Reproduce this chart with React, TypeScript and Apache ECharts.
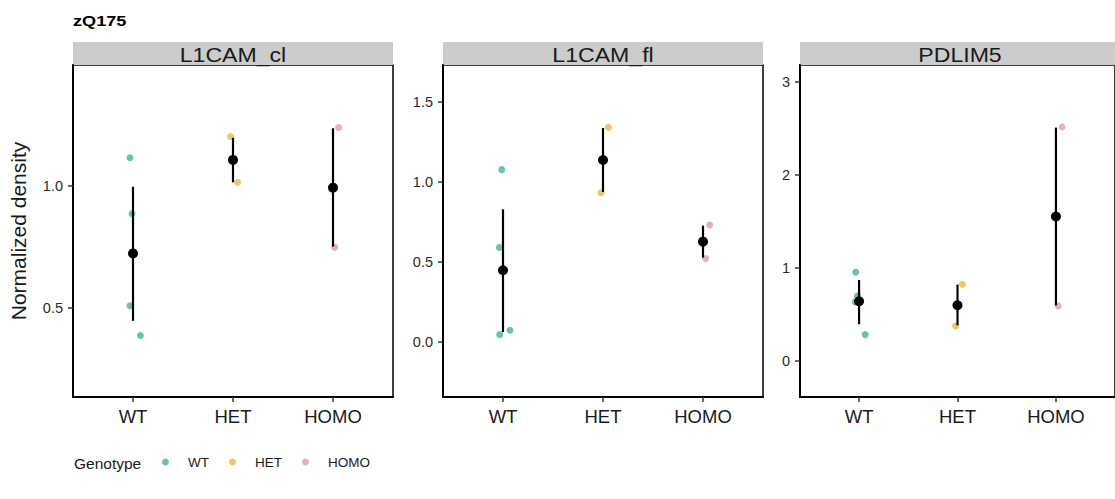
import React, { useEffect, useRef } from "react";
import * as echarts from "echarts";

const title = "zQ175";
const legendTitle = "Genotype";
const genotypes = ["WT", "HET", "HOMO"];
const panels = ["L1CAM_cl", "L1CAM_fl", "PDLIM5"];
const genotypeColors = ["#009E73", "#E69F00", "#CC79A7"];

// individual points per panel, per genotype (values) and horizontal jitter offsets
const clWT = [1.116, 0.886, 0.508, 0.386];
const clWTJit = [-0.03, -0.01, -0.03, 0.074];
const clHET = [1.203, 1.015];
const clHETJit = [-0.026, 0.047];
const clHOMO = [1.24, 0.748];
const clHOMOJit = [0.057, 0.017];

const flWT = [1.075, 0.588, 0.044, 0.071];
const flWTJit = [-0.013, -0.036, -0.033, 0.07];
const flHET = [1.339, 0.931];
const flHETJit = [0.054, -0.02];
const flHOMO = [0.729, 0.519];
const flHOMOJit = [0.067, 0.027];

const pdWT = [0.953, 0.698, 0.634, 0.283];
const pdWTJit = [-0.033, -0.017, -0.04, 0.063];
const pdHET = [0.824, 0.376];
const pdHETJit = [0.05, -0.02];
const pdHOMO = [2.513, 0.591];
const pdHOMOJit = [0.063, 0.023];

// mean and error bar bounds per panel (WT, HET, HOMO)
const clMean = [0.723, 1.107, 0.993];
const clLow = [0.446, 1.015, 0.751];
const clHigh = [0.997, 1.198, 1.237];

const flMean = [0.446, 1.135, 0.625];
const flLow = [0.06, 0.935, 0.525];
const flHigh = [0.827, 1.335, 0.725];

const pdMean = [0.641, 0.598, 1.551];
const pdLow = [0.394, 0.383, 0.596];
const pdHigh = [0.87, 0.82, 2.506];

// y axis ranges and ticks
const clRange = [0.133, 1.497];
const clTicks = [0.5, 1.0];
const flRange = [-0.346, 1.729];
const flTicks = [0, 0.5, 1.0, 1.5];
const pdRange = [-0.387, 3.178];
const pdTicks = [0, 1, 2, 3];

const panelData = [
  {
    pts: [clWT, clHET, clHOMO],
    jit: [clWTJit, clHETJit, clHOMOJit],
    mean: clMean, low: clLow, high: clHigh,
    range: clRange, ticks: clTicks, decimals: 1,
  },
  {
    pts: [flWT, flHET, flHOMO],
    jit: [flWTJit, flHETJit, flHOMOJit],
    mean: flMean, low: flLow, high: flHigh,
    range: flRange, ticks: flTicks, decimals: 1,
  },
  {
    pts: [pdWT, pdHET, pdHOMO],
    jit: [pdWTJit, pdHETJit, pdHOMOJit],
    mean: pdMean, low: pdLow, high: pdHigh,
    range: pdRange, ticks: pdTicks, decimals: 0,
  },
];

const FONT = "'Liberation Sans', Arial, Helvetica, sans-serif";

export default function App() {
  const ref = useRef<HTMLDivElement>(null);

  useEffect(() => {
    if (!ref.current) return;
    const chart = echarts.init(ref.current, undefined, { renderer: "svg" });

    const gridLefts = [73, 443, 800];
    const gridTop = 65;
    const gridW = 320;
    const gridH = 332;
    const stripH = 23;

    const grids: any[] = [];
    const xAxes: any[] = [];
    const yAxes: any[] = [];
    const series: any[] = [];
    const graphics: any[] = [];

    panelData.forEach((p, i) => {
      grids.push({
        left: gridLefts[i],
        top: gridTop,
        width: gridW,
        height: gridH,
        show: true,
        borderColor: "#000",
        borderWidth: 1.5,
        backgroundColor: "transparent",
      });
      xAxes.push({
        type: "value",
        gridIndex: i,
        min: 0.4,
        max: 3.6,
        axisLine: { show: true, onZero: false, lineStyle: { color: "#000", width: 2 } },
        axisTick: { show: true, customValues: [1, 2, 3], length: 5, lineStyle: { color: "#333", width: 1.5 } },
        axisLabel: {
          customValues: [1, 2, 3],
          formatter: (v: number) => genotypes[Math.round(v) - 1],
          fontSize: 18.5,
          color: "#1a1a1a",
          fontFamily: FONT,
          margin: 10,
        },
        splitLine: { show: false },
      });
      yAxes.push({
        type: "value",
        gridIndex: i,
        min: p.range[0],
        max: p.range[1],
        axisLine: { show: true, onZero: false, lineStyle: { color: "#000", width: 2 } },
        axisTick: { show: true, customValues: p.ticks, length: 5, lineStyle: { color: "#333", width: 1.5 } },
        axisLabel: {
          customValues: p.ticks,
          formatter: (v: number) => v.toFixed(p.decimals),
          fontSize: 14.5,
          color: "#2b2b2b",
          fontFamily: FONT,
          margin: 10,
        },
        splitLine: { show: false },
        ...(i === 0
          ? {
              name: "Normalized density",
              nameLocation: "middle",
              nameGap: 44,
              nameTextStyle: { fontSize: 21, color: "#1a1a1a", fontFamily: FONT },
            }
          : {}),
      });

      // jittered points
      genotypes.forEach((g, gi) => {
        series.push({
          type: "scatter",
          name: g,
          xAxisIndex: i,
          yAxisIndex: i,
          symbol: "circle",
          symbolSize: 7,
          itemStyle: { color: genotypeColors[gi], opacity: 0.6 },
          data: p.pts[gi].map((v, k) => [gi + 1 + p.jit[gi][k], v]),
          z: 2,
        });
      });

      // error bars
      series.push({
        type: "custom",
        xAxisIndex: i,
        yAxisIndex: i,
        encode: { x: 0, y: [1, 2] },
        data: p.mean.map((_, k) => [k + 1, p.low[k], p.high[k]]),
        renderItem: (params: any, api: any) => {
          const x = api.value(0);
          const lo = api.coord([x, api.value(1)]);
          const hi = api.coord([x, api.value(2)]);
          return {
            type: "line",
            shape: { x1: lo[0], y1: lo[1], x2: hi[0], y2: hi[1] },
            style: { stroke: "#000", lineWidth: 2.2 },
          };
        },
        z: 3,
      });

      // means
      series.push({
        type: "scatter",
        xAxisIndex: i,
        yAxisIndex: i,
        symbol: "circle",
        symbolSize: 10,
        itemStyle: { color: "#000", opacity: 1 },
        data: p.mean.map((v, k) => [k + 1, v]),
        z: 4,
      });

      // strip
      graphics.push({
        type: "rect",
        shape: { x: gridLefts[i], y: gridTop - stripH, width: gridW, height: stripH },
        style: { fill: "#cccccc" },
        silent: true,
      });
      graphics.push({
        type: "text",
        x: gridLefts[i] + gridW / 2,
        y: gridTop - stripH / 2 + 1,
        scaleX: 1.1,
        style: {
          text: panels[i],
          fontSize: 21,
          fill: "#1a1a1a",
          fontFamily: FONT,
          align: "center",
          verticalAlign: "middle",
        },
        silent: true,
      });
    });

    graphics.push({
      type: "text",
      x: 73,
      y: 21,
      scaleX: 1.17,
      style: {
        text: title,
        fontSize: 15.5,
        fontWeight: "bold",
        fill: "#000",
        fontFamily: FONT,
        verticalAlign: "middle",
      },
    });
    graphics.push({
      type: "text",
      x: 74,
      y: 463,
      style: {
        text: legendTitle,
        fontSize: 15.5,
        fill: "#1a1a1a",
        fontFamily: FONT,
        verticalAlign: "middle",
      },
    });

    chart.setOption({
      animation: false,
      backgroundColor: "#fff",
      grid: grids,
      xAxis: xAxes,
      yAxis: yAxes,
      legend: {
        data: genotypes,
        left: 162,
        top: 455,
        orient: "horizontal",
        icon: "circle",
        itemWidth: 7,
        itemHeight: 7,
        itemGap: 20,
        padding: 0,
        textStyle: { fontSize: 13.5, color: "#1a1a1a", fontFamily: FONT, padding: [0, 0, 0, 14] },
        selectedMode: false,
      },
      graphic: graphics,
      series,
    });

    return () => chart.dispose();
  }, []);

  return (
    <div
      ref={ref}
      style={{ position: "fixed", left: 0, top: 0, width: 1115, height: 499, background: "#fff" }}
    />
  );
}
